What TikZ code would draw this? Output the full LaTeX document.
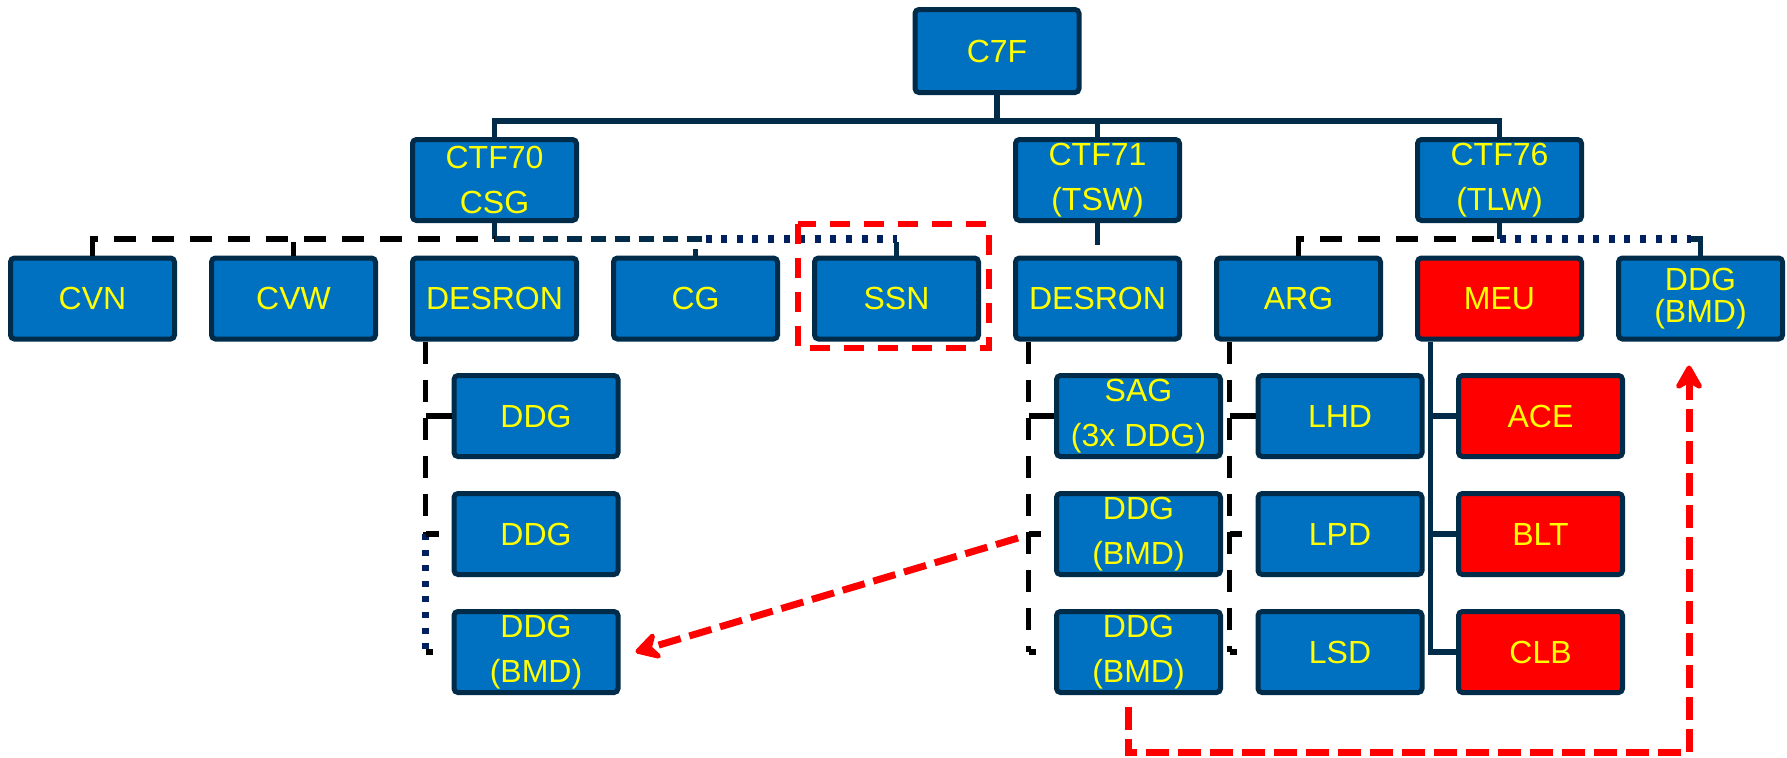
\documentclass[tikz,border=0pt]{standalone}
\usepackage{fontspec}
\setmainfont{Liberation Sans}
\usetikzlibrary{arrows.meta,calc}
\definecolor{boxblue}{HTML}{0070C0}
\definecolor{navy}{HTML}{002B49}
\definecolor{navydot}{HTML}{002060}
\definecolor{boxred}{HTML}{FF0000}
\definecolor{txt}{HTML}{FFFF00}
\begin{document}
\begin{tikzpicture}[x=0.5pt,y=-0.5pt,
  box/.style={draw=navy, line width=2.5pt, fill=boxblue, rounded corners=2pt,
    minimum width=82pt, minimum height=40.5pt, inner sep=0pt, text=txt,
    align=center, font=\fontsize{16}{22.5}\selectfont},
  redbox/.style={box, fill=boxred},
  tightbox/.style={box, font=\fontsize{16}{16}\selectfont},
  conn/.style={draw=navy, line width=2.6pt},
  blk/.style={draw=black, line width=2.6pt, dash pattern=on 11pt off 8pt},
  tick/.style={draw=black, line width=2.6pt},
  nvdash/.style={draw=navy, line width=2.8pt, dash pattern=on 7.5pt off 4.5pt},
  nvdot/.style={draw=navydot, line width=3.6pt, dash pattern=on 3pt off 4.8pt},
  redframe/.style={draw=red, line width=3pt, dash pattern=on 10pt off 7pt},
  redarrow/.style={draw=red, line width=3.5pt, dash pattern=on 11.5pt off 4.5pt,
    -{Stealth[length=15pt,width=17pt,inset=5pt,round]}},
]
\useasboundingbox (0,0) rectangle (1787,757);

% top levels
\node[box, minimum height=41.5pt] (c7f) at (997,51) {C7F};
\node[box] (ctf70) at (494.5,180) {CTF70\\CSG};
\node[box] (ctf71) at (1097.5,180) {CTF71\\(TSW)};
\node[box] (ctf76) at (1499.5,180) {CTF76\\(TLW)};

% row of units
\node[box] (cvn)  at (92.5,298.5)  {CVN};
\node[box] (cvw)  at (293.5,298.5) {CVW};
\node[box] (desl) at (494.5,298.5) {DESRON};
\node[box] (cg)   at (695.5,298.5) {CG};
\node[box] (ssn)  at (896.5,298.5) {SSN};
\node[box] (desr) at (1097.5,298.5) {DESRON};
\node[box] (arg)  at (1298.5,298.5) {ARG};
\node[redbox] (meu) at (1499.5,298.5) {MEU};
\node[tightbox] (ddgt) at (1700.5,298.5) {DDG\\(BMD)};

% lower rows
\node[box] (ddgl1) at (536,416) {DDG};
\node[box] (ddgl2) at (536,534) {DDG};
\node[box] (ddgl3) at (536,652) {DDG\\(BMD)};
\node[box] (sag)   at (1138.5,416) {SAG\\(3x DDG)};
\node[box] (ddgr2) at (1138.5,534) {DDG\\(BMD)};
\node[box] (ddgr3) at (1138.5,652) {DDG\\(BMD)};
\node[box] (lhd) at (1340,416) {LHD};
\node[box] (lpd) at (1340,534) {LPD};
\node[box] (lsd) at (1340,652) {LSD};
\node[redbox] (ace) at (1540.5,416) {ACE};
\node[redbox] (blt) at (1540.5,534) {BLT};
\node[redbox] (clb) at (1540.5,652) {CLB};

% C7F tree
\coordinate (bus) at (997,121);
\draw[conn] (c7f.south) -- (bus);
\draw[conn] (ctf70.north) |- (bus) -| (ctf76.north);
\draw[conn] (ctf71.north) -- (ctf71.north |- bus);

% CTF70
\coordinate (j70) at (494.5,239);
\coordinate (jcg) at ($(cg.north |- j70)+(10,0)$);
\draw[conn] (ctf70.south) -- (j70);
\draw[blk] (cvn.north) |- (j70);
\draw[tick] (cvw.north) -- ++(0,-14);
\draw[nvdash] (j70) -- (jcg);
\draw[nvdot] (jcg) -- (ssn.north |- j70);
\draw[conn] (cg.north) -- ++(0,-7);
\draw[conn] (ssn.north) -- ++(0,-14);
\draw[redframe] ($(ssn.north west)+(-14.5,-32)$) rectangle ($(ssn.south east)+(7.5,6)$);

% CTF71
\draw[conn] (ctf71.south) -- ++(0,22);

% CTF76
\coordinate (j76) at (ctf76.south |- j70);
\coordinate (jdd) at ($(ddgt.north |- j76)+(-10,0)$);
\draw[conn] (ctf76.south) -- (j76);
\draw[blk] (arg.north) |- (j76);
\draw[nvdot] (j76) -- (jdd);
\draw[conn] (jdd) -| (ddgt.north);

% MEU
\coordinate (mv) at ($(meu.south west)+(15.5,0)$);
\draw[conn] (mv) |- (clb.west);
\draw[conn] (ace.west) -- (ace.west -| mv);
\draw[conn] (blt.west) -- (blt.west -| mv);

% DESRON (CTF70)
\coordinate (dl) at ($(desl.south west)+(15.5,0)$);
\draw[blk] (dl) -- (dl |- ddgl2.west);
\draw[nvdot] (dl |- ddgl2.west) -- (dl |- ddgl3.west);
\draw[tick] (ddgl1.west) -- (dl |- ddgl1.west);
\draw[tick] (dl |- ddgl2.west) -- ++(13,0);
\draw[tick] (dl |- ddgl3.west) -- ++(7,0);

% DESRON (CTF71)
\coordinate (dr) at ($(desr.south west)+(15.5,0)$);
\draw[blk] (dr) -- (dr |- ddgr3.west);
\draw[tick] (sag.west) -- (dr |- sag.west);
\draw[tick] (dr |- ddgr2.west) -- ++(12,0);
\draw[tick] (dr |- ddgr3.west) -- ++(7,0);

% ARG
\coordinate (av) at ($(arg.south west)+(15.5,0)$);
\draw[blk] (av) -- (av |- lsd.west);
\draw[tick] (lhd.west) -- (av |- lhd.west);
\draw[tick] (av |- lpd.west) -- ++(12,0);
\draw[tick] (av |- lsd.west) -- ++(7,0);

% red arrows
\coordinate (ra) at ($(ddgr2.west)+(-36,4)$);
\draw[redarrow] (ra) -- ($(ddgl3.east)+(15,0)$);
\coordinate (rs) at ($(ddgr3.south)+(-10.5,11.5)$);
\coordinate (re) at ($(ddgt.south)+(-11.5,24)$);
\draw[redarrow] (rs) -- ++(0,46) -| (re);
\end{tikzpicture}
\end{document}
